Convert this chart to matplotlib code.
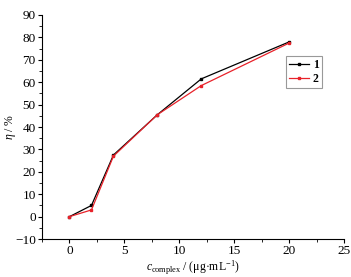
import matplotlib
matplotlib.use("Agg")
import matplotlib.pyplot as plt
from matplotlib.ticker import MultipleLocator

plt.rcParams['font.family'] = ['Liberation Serif', 'DejaVu Serif']
plt.rcParams['mathtext.fontset'] = 'custom'
plt.rcParams['mathtext.rm'] = 'Liberation Serif'
plt.rcParams['mathtext.it'] = 'Liberation Serif:italic'

conc = [0, 2, 4, 8, 12, 20]
eta1 = [0, 5, 27.5, 45.5, 61.5, 78]
eta2 = [0, 3, 27, 45.5, 58.5, 77.5]

fig = plt.figure(figsize=(3.51, 2.77), dpi=100)
ax = fig.add_axes([0.1197, 0.137, 0.861, 0.809])
ax.plot(conc, eta1, color='black', marker='s', markersize=2, lw=0.9, label='1')
ax.plot(conc, eta2, color='#e8222a', marker='s', markersize=2, lw=0.9, label='2')
ax.set_xlim(-2.5, 25)
ax.set_ylim(-10, 90)
ax.xaxis.set_major_locator(MultipleLocator(5))
ax.xaxis.set_minor_locator(MultipleLocator(2.5))
ax.yaxis.set_major_locator(MultipleLocator(10))
ax.yaxis.set_minor_locator(MultipleLocator(5))
for s in ['top', 'right']:
    ax.spines[s].set_visible(False)
ax.tick_params(which='major', direction='out', length=3, width=0.8, labelsize=9.5, pad=1.5)
ax.tick_params(which='minor', direction='out', length=2, width=0.6)
ax.set_xlabel(r'$c_{\mathrm{complex}}$ / (μg·mL$^{-1}$)', fontsize=8.5, labelpad=1)
ax.set_ylabel(r'$\eta$ / %', fontsize=8.5)
ax.yaxis.set_label_coords(-0.08, 0.5)
leg = ax.legend(loc='upper left', bbox_to_anchor=(0.808, 0.815), fontsize=8.5, frameon=True,
                fancybox=False, edgecolor='gray', handlelength=1.7, borderpad=0.25,
                labelspacing=0.15, handletextpad=0.3, borderaxespad=0)
leg.get_frame().set_linewidth(0.8)
for t in leg.get_texts():
    t.set_fontweight('bold')
fig.savefig('out.png', dpi=100)
